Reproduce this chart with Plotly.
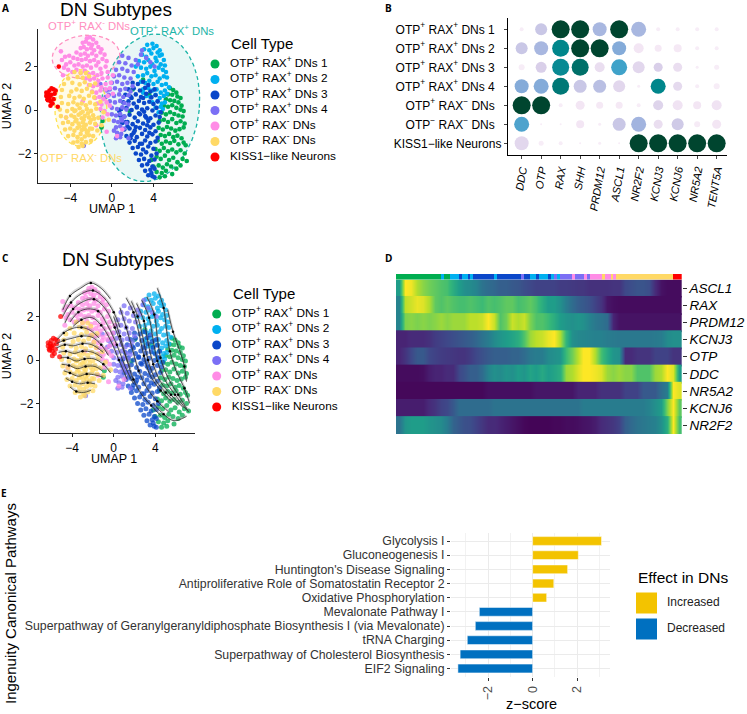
import numpy as np
import plotly.graph_objects as go

W, H = 747, 714
FONT = "Liberation Sans"

# ---- cell types ----
type_names = ["OTP<sup>+</sup> RAX<sup>+</sup> DNs 1", "OTP<sup>+</sup> RAX<sup>+</sup> DNs 2",
              "OTP<sup>+</sup> RAX<sup>+</sup> DNs 3", "OTP<sup>+</sup> RAX<sup>+</sup> DNs 4",
              "OTP<sup>+</sup> RAX<sup>-</sup> DNs", "OTP<sup>−</sup> RAX<sup>-</sup> DNs",
              "KISS1−like Neurons"]
type_colors = ["#00AD50", "#00B0F0", "#0A47C9", "#7B6FF5", "#FF8CE6", "#FFD966", "#FF0000"]

# ---- UMAP points ----
green_x = [5.6,5.9,6.2,5.4,5.8,6.3,6.6,5.2,5.6,6.0,6.4,6.7,5.0,5.4,5.8,6.2,6.6,6.9,4.8,5.2,5.6,6.0,6.4,6.8,4.6,5.0,5.4,5.8,6.2,6.6,7.0,4.5,4.9,5.3,5.7,6.1,6.5,6.9,4.7,5.1,5.5,5.9,6.3,6.7,4.4,4.8,5.2,5.6,6.0,6.4,6.9,7.1,4.2,4.6,5.0,5.4,5.8,6.2,6.6,7.0,3.8,4.3,4.7,5.1,5.5,5.9,6.3,6.8,7.2,4.0,4.5,4.9,5.3,5.7,6.2,6.6,4.3,4.8,5.2,5.8,4.6,5.1,3.0,2.0,1.7,3.6,-0.9,-1.0]
green_y = [1.0,.92,.8,.72,.7,.62,.55,.5,.45,.42,.35,.2,.2,.15,.22,.1,.02,-.05,-.12,-.2,-.1,-.18,-.25,-.3,-.5,-.45,-.55,-.42,-.6,-.52,-.62,-.82,-.9,-.78,-.85,-.95,-.88,-.8,-1.15,-1.2,-1.1,-1.25,-1.18,-1.3,-1.4,-1.55,-1.45,-1.52,-1.42,-1.58,-1.5,-1.62,-1.8,-1.88,-1.75,-1.9,-1.82,-1.95,-1.85,-2.0,-2.3,-2.15,-2.25,-2.1,-2.3,-2.2,-2.4,-2.25,-2.35,-2.6,-2.55,-2.65,-2.5,-2.6,-2.7,-2.55,-2.85,-2.9,-2.8,-2.95,-3.1,-3.05,1.4,.95,-.05,.7,-.5,-.8]
ltblue_x = [3.4,3.9,4.3,4.6,3.1,3.6,4.0,4.4,4.8,2.9,3.3,3.8,4.2,4.6,5.0,2.6,3.1,3.5,3.9,4.3,4.7,5.1,2.3,2.8,3.3,3.7,4.1,4.5,4.9,5.2,3.0,3.4,3.8,4.2,4.6,5.0,5.3,2.8,3.2,3.6,4.0,4.4,4.8,5.2,3.0,3.5,3.9,4.3,4.7,5.1,5.5,3.3,3.7,4.2,4.6,5.0,3.9,4.4,4.8,5.3,4.2,4.7,5.1,4.5,4.9,2.5,3.0]
ltblue_y = [3.0,3.05,2.95,2.75,2.8,2.75,2.85,2.65,2.55,2.55,2.45,2.6,2.4,2.5,2.3,2.25,2.2,2.3,2.1,2.25,2.1,2.05,2.0,1.95,1.9,2.0,1.8,1.95,1.85,1.75,1.6,1.7,1.55,1.6,1.45,1.55,1.5,1.3,1.25,1.35,1.2,1.3,1.15,1.2,.95,1.0,.9,.95,.8,.9,1.05,.65,.6,.7,.55,.65,.35,.4,.3,.75,.1,.15,.35,-.1,.05,1.55,.8]
blue_x = [2.0,2.5,3.0,3.5,1.6,2.1,2.7,3.2,3.7,4.1,1.3,1.8,2.3,2.8,3.3,3.8,4.2,1.1,1.6,2.1,2.6,3.1,3.6,4.0,4.4,.9,1.4,1.9,2.4,2.9,3.4,3.9,4.3,.8,1.2,1.7,2.2,2.7,3.2,3.7,4.2,4.6,1.0,1.5,2.0,2.5,3.0,3.5,4.0,4.5,1.2,1.7,2.2,2.7,3.2,3.7,4.2,1.4,1.9,2.4,2.9,3.4,3.9,4.4,1.7,2.2,2.7,3.2,3.7,4.2,2.0,2.5,3.0,3.5,4.0,2.3,2.8,3.3,3.8,4.3,2.6,3.1,3.6,4.1,2.9,3.4,3.9,3.2,3.7,4.1,3.5,3.9,3.8,4.1,2.4,3.0,1.5,2.9,3.4,2.1,1.8,2.6,3.1,3.6,2.3,3.3,1.3,1.9,.7,4.7]
blue_y = [1.25,1.2,1.3,1.15,.95,1.0,.9,1.02,.85,.95,.7,.62,.72,.6,.75,.58,.68,.35,.4,.3,.42,.32,.38,.28,.4,.05,.1,.0,.12,.02,.08,-.02,.1,-.25,-.3,-.22,-.35,-.2,-.28,-.38,-.25,-.32,-.6,-.55,-.65,-.52,-.62,-.5,-.68,-.58,-.9,-.85,-.95,-.82,-.92,-.8,-.98,-1.2,-1.15,-1.25,-1.1,-1.22,-1.12,-1.28,-1.5,-1.42,-1.55,-1.4,-1.52,-1.45,-1.75,-1.7,-1.82,-1.68,-1.78,-2.0,-2.05,-1.95,-2.1,-2.0,-2.3,-2.25,-2.35,-2.28,-2.55,-2.5,-2.6,-2.8,-2.75,-2.7,-3.0,-3.05,-2.9,-3.1,.15,.55,-.75,-1.55,-.7,-1.05,-1.3,-.15,-.08,-1.05,-.78,-.35,-.55,.55,-.05,-.1]
purple_x = [1.0,1.6,2.3,2.8,3.3,.7,1.3,1.9,2.5,.4,1.0,1.5,2.1,.2,.7,1.2,1.8,.0,.5,1.0,1.5,2.0,-.2,.3,.8,1.3,1.8,-.3,.2,.7,1.1,1.6,-.2,.3,.8,1.2,1.6,.0,.5,1.0,1.4,.0,.4,.8,1.2,.2,.6,1.0,1.4,.4,.8,1.2,.5,.9,.4,.8,-.5,-.6,-1.1,3.7,4.1,2.9,1.6,.2,.9,-2.7]
purple_y = [2.5,2.4,2.3,2.55,2.4,2.2,2.15,2.05,2.1,1.85,1.9,1.8,1.75,1.55,1.6,1.5,1.45,1.25,1.3,1.2,1.25,1.1,.95,1.0,.92,.98,.85,.7,.65,.72,.6,.68,.4,.35,.42,.32,.25,.1,.05,.12,.02,-.2,-.25,-.18,-.3,-.5,-.55,-.48,-.6,-.8,-.75,-.85,-1.05,-1.1,-1.3,-1.25,.9,.6,1.2,2.2,2.0,2.75,-1.3,-.95,-.4,-1.65]
pink_x = [-2.4,-2.1,-1.8,-2.8,-2.5,-2.2,-1.9,-1.5,-3.0,-2.7,-2.4,-2.0,-1.7,-1.3,-1.0,-3.4,-3.0,-2.6,-2.3,-1.9,-1.5,-1.1,-.7,-4.9,-4.5,-4.1,-3.7,-3.3,-2.9,-2.5,-2.1,-1.7,-1.3,-.9,-.5,-4.8,-4.4,-4.0,-3.6,-3.2,-2.8,-2.4,-2.0,-1.5,-1.1,-.6,-4.6,-4.2,-3.8,-3.4,-3.0,-2.6,-2.2,-1.8,-1.4,-1.0,-.4,-4.7,-2.5,-2.1,-1.7,-1.3,-.9,-.4,.1,-2.2,-1.8,-1.4,-1.0,-.6,-.1,-1.9,-1.5,-1.1,-.6,-.2,-1.6,-1.2,-.8,-.4,.1,-1.4,-1.0,-.5,-1.1,-.7,-.2,-.9,-.4,-1.5,-2.8,-4.4,-.5,.5,1.0]
pink_y = [3.3,3.35,3.25,3.1,3.15,3.05,3.0,3.1,2.85,2.9,2.8,2.85,2.75,2.9,2.8,2.65,2.55,2.6,2.5,2.6,2.5,2.65,2.55,2.7,2.45,2.5,2.4,2.35,2.3,2.35,2.25,2.3,2.2,2.35,2.25,2.3,2.1,2.2,2.05,2.1,2.0,2.05,1.95,2.05,1.9,2.0,1.95,1.85,1.75,1.85,1.7,1.8,1.65,1.7,1.6,1.7,1.75,1.6,1.45,1.4,1.45,1.35,1.45,1.5,1.6,1.15,1.1,1.15,1.05,1.2,1.25,.85,.8,.9,.95,1.0,.55,.6,.5,.65,.75,.3,.25,.35,.05,-.05,.2,-.35,-.2,-.7,.4,-.35,-1.0,-1.2,-.9]
orange_x = [-3.6,-3.0,-2.5,-4.2,-3.3,-2.8,-2.2,-4.6,-3.8,-3.1,-2.6,-2.1,-1.6,-4.8,-3.9,-3.4,-2.9,-2.4,-1.9,-4.9,-4.1,-3.6,-3.1,-2.7,-2.2,-1.7,-4.8,-4.2,-3.7,-3.3,-2.9,-2.5,-2.1,-1.6,-1.1,-5.0,-4.3,-3.8,-3.5,-3.1,-2.8,-2.4,-2.0,-1.5,-.8,-4.9,-4.4,-3.9,-3.6,-3.2,-2.9,-2.6,-2.2,-1.8,-1.3,-4.7,-4.2,-3.8,-3.5,-3.2,-2.8,-2.5,-2.1,-1.6,-1.0,-4.5,-4.0,-3.6,-3.3,-2.9,-2.6,-2.3,-1.9,-1.4,-4.2,-3.7,-3.3,-3.0,-2.6,-2.2,-1.8,-3.7,-3.3,-2.9,-2.5,-2.0,-3.2,-2.8,-3.4,-3.0,-2.7,-2.3,-3.1,-2.7,-2.4,-2.9,-2.0,-3.6,-2.1,-1.7,-.3]
orange_y = [1.75,1.72,1.7,1.45,1.52,1.48,1.55,1.2,1.25,1.18,1.28,1.15,1.22,.92,.85,.95,.88,.98,.82,.6,.65,.55,.62,.52,.66,.58,.32,.28,.36,.25,.3,.22,.34,.26,.38,.02,-.05,.05,-.02,.08,-.08,.04,-.04,.06,-.1,-.28,-.35,-.25,-.32,-.22,-.38,-.28,-.34,-.24,-.36,-.6,-.55,-.65,-.52,-.62,-.56,-.68,-.58,-.64,-.7,-.9,-.85,-.95,-.82,-.92,-.88,-.98,-.86,-.94,-1.2,-1.15,-1.25,-1.1,-1.22,-1.16,-1.2,-1.5,-1.45,-1.55,-1.48,-1.42,-1.7,-1.65,-.45,-.15,-.45,-.15,-.75,-.75,-1.05,-1.35,-.45,-.05,-.85,-.4,-.45]
red_x = [-6.3,-6.2,-6.1,-6.0,-5.9,-6.3,-6.0,-5.8,-5.6,-5.5,-5.7,-5.9,-6.1,-5.4,-5.6,-5.8,-6.15,-5.95,-5.2,-5.1]
red_y = [.65,.5,.75,.55,.4,.8,.9,.7,.95,.75,.3,.2,.6,.9,.5,1.0,.45,.65,.15,2.0]

# ---- velocity streamlines (panel C) ----
stream_x = [[-4.9,-4.2,-3.2,-2.2,-1.2,-.3],[-4.9,-4.1,-3.1,-2.0,-.9,.0,.6],[-4.7,-3.9,-2.9,-1.9,-.8,.1,.9,1.6],
            [-4.2,-3.4,-2.5,-1.5,-.6,.3,1.1,1.9],[-3.9,-3.1,-2.1,-1.2,-.3,.5,1.3],
            [-5.4,-4.8,-4.0,-3.1,-2.2,-1.4],[-5.5,-4.8,-4.0,-3.1,-2.1,-1.2,-.5],[-5.5,-4.7,-3.9,-3.0,-2.1,-1.0],
            [-5.3,-4.6,-3.8,-3.0,-2.0,-1.1],[-5.1,-4.4,-3.6,-2.8,-1.9,-1.0,-.3],[-5.0,-4.3,-3.5,-2.7,-1.8,-1.1],
            [-4.8,-4.2,-3.4,-2.6,-1.7,-1.0],[-4.6,-4.0,-3.3,-2.5,-1.8],[-4.2,-3.6,-2.9,-2.2],
            [1.2,1.9,2.4,2.9,3.5,4.5,5.5],[2.2,2.9,3.3,3.8,4.5,5.5,6.7],[3.2,3.9,4.2,4.5,5.2,6.2,7.2],
            [4.2,4.8,5.1,5.4,6.0,6.8,7.3],[.6,1.2,1.8,2.4,3.2,4.2,5.3],[5.2,5.7,6.3,6.8,7.0],[3.8,4.8,5.8,7.0],
            [1.7,2.3,2.8,3.3,4.0,5.0,6.2],[2.7,3.4,3.8,4.2,4.9,5.9,7.0],[.0,.6,1.2,1.9,2.7,3.6,4.6]]
stream_y = [[2.3,2.95,3.3,3.55,3.3,2.8],[2.0,2.65,3.05,3.2,2.85,2.2,1.5],[1.7,2.35,2.7,2.8,2.35,1.5,.5,-.4],
            [1.75,2.2,2.35,2.25,1.6,.7,-.3,-1.1],[1.55,1.85,1.95,1.6,.9,.0,-.9],
            [.95,1.25,1.45,1.5,1.35,1.0],[.75,.9,1.0,1.1,1.05,.7,.2],[.55,.7,.65,.75,.7,.35],
            [.35,.4,.3,.4,.35,.1],[.1,.1,-.05,.05,.05,-.2,-.6],[-.2,-.25,-.4,-.3,-.3,-.5],
            [-.5,-.6,-.75,-.65,-.7,-.8],[-.85,-1.0,-1.1,-1.05,-1.1],[-1.25,-1.45,-1.5,-1.4],
            [2.85,2.2,1.3,.2,-.7,-1.4,-1.9],[2.6,1.8,.8,-.2,-1.0,-1.6,-2.2],[2.9,2.1,1.0,.1,-.8,-1.6,-2.4],
            [3.3,2.4,1.3,.4,-.5,-1.3,-2.0],[2.4,1.5,.5,-.5,-1.3,-1.9,-2.4],[2.3,1.3,.5,-.3,-1.0],[-2.0,-2.5,-2.8,-2.6],
            [2.7,2.0,1.05,.0,-.9,-1.5,-2.1],[2.75,1.95,.9,-.05,-.9,-1.6,-2.3],[2.0,1.1,.1,-.9,-1.6,-2.1,-2.6]]

# ---- dot plot (panel B) ----
dot_genes = ["DDC","OTP","RAX","SHH","PRDM12","ASCL1","NR2F2","KCNJ3","KCNJ6","NR5A2","TENT5A"]
dot_rows = ["OTP<sup>+</sup> RAX<sup>+</sup> DNs 1&nbsp;&nbsp;", "OTP<sup>+</sup> RAX<sup>+</sup> DNs 2&nbsp;&nbsp;",
            "OTP<sup>+</sup> RAX<sup>+</sup> DNs 3&nbsp;&nbsp;", "OTP<sup>+</sup> RAX<sup>+</sup> DNs 4&nbsp;&nbsp;",
            "OTP<sup>+</sup> RAX<sup>−</sup> DNs&nbsp;&nbsp;", "OTP<sup>−</sup> RAX<sup>−</sup> DNs&nbsp;&nbsp;",
            "KISS1−like Neurons"]
dot_pct = [[4,12,18,18,14,18,15,4,4,4,4],
           [12,14,17,18,18,14,10,7,8,4,4],
           [6,11,17,17,10,16,12,9,9,3,5],
           [14,15,17,13,13,12,3,15,9,4,6],
           [18,18,4,9,7,7,4,10,10,8,10],
           [15,2,2,8,3,13,15,9,12,6,9],
           [14,5,4,2,3,2,18,18,18,18,18]]
dot_expr = [[.05,.3,1,1,.4,1,.4,.05,.05,.05,.05],
            [.3,.4,.8,1,1,.5,.1,.08,.08,.05,.05],
            [.05,.25,.78,.88,.15,.65,.2,.25,.15,.05,.05],
            [.5,.5,.85,.3,.35,.2,.05,.8,.18,.05,.05],
            [1,1,.05,.1,.08,.08,.05,.22,.12,.1,.12],
            [.62,.05,.05,.1,.05,.3,.42,.15,.28,.06,.1],
            [.2,.05,.05,.05,.05,.05,1,1,1,1,1]]
dot_scale = [[0,"#FBF3FA"],[.1,"#F3E6F4"],[.25,"#D9CFE9"],[.42,"#A2B4DF"],[.55,"#72A6D6"],[.65,"#3FA2C9"],
             [.8,"#00868B"],[.9,"#006A60"],[1,"#00452F"]]

# ---- pseudotime heatmap (panel D) ----
heat_genes = ["ASCL1","RAX","PRDM12","KCNJ3","OTP","DDC","NR5A2","KCNJ6","NR2F2"]
ascl1 = [.55,1,.98,.88,.82,.78,.75,.72,.7,.62,.55,.5,.48,.45,.38,.35,.33,.3,.3,.28,.27,.24,.22,.2,.2,.2,.2,.18,.18,.17,.16,.16,.14,.14,.14,.14,.15,.15,.22,.24,.26,.26,.24,.12,.05,.03,.03,.03]
rax = [.45,.9,.93,.97,.95,.88,.75,.72,.75,.72,.7,.7,.72,.7,.68,.72,.7,.72,.75,.75,.7,.72,.75,.7,.62,.55,.55,.5,.42,.35,.3,.28,.25,.2,.15,.06,.04,.03,.03,.03,.03,.03,.03,.03,.03,.03,.03,.03]
prdm12 = [.45,.8,.82,.8,.82,.8,.82,.85,.82,.85,.85,.85,.9,.9,.92,1,.92,.72,.78,.92,.88,.92,.8,.72,.72,.68,.62,.55,.52,.5,.52,.5,.45,.4,.38,.35,.1,.05,.05,.05,.05,.05,.05,.05,.05,.05,.05,.05]
kcnj3 = [.1,.1,.12,.12,.12,.14,.18,.2,.22,.24,.26,.28,.3,.33,.38,.42,.48,.52,.55,.58,.62,.72,.85,.9,.92,.97,1,.88,.65,.5,.47,.46,.45,.44,.44,.42,.41,.4,.4,.4,.4,.4,.4,.41,.42,.48,.5,.5]
otp = [.1,.15,.22,.28,.28,.22,.2,.18,.17,.16,.15,.15,.18,.22,.25,.28,.3,.3,.3,.32,.32,.35,.4,.42,.42,.48,.5,.52,.68,.78,.9,1,1,.88,.7,.6,.52,.5,.12,.12,.15,.15,.15,.2,.2,.2,.15,.15]
ddc = [.03,.03,.03,.03,.04,.08,.1,.1,.12,.12,.22,.25,.3,.3,.35,.45,.5,.48,.52,.5,.55,.52,.58,.55,.6,.55,.58,.62,.85,.88,.95,1,1,.98,.95,.85,.82,.85,.82,.82,.72,.72,.72,.85,.88,1,.95,.55]
nr5a2 = [.02,.02,.02,.02,.02,.02,.02,.02,.02,.02,.02,.02,.02,.02,.02,.04,.04,.04,.04,.04,.04,.04,.04,.06,.06,.06,.06,.06,.06,.06,.1,.1,.1,.1,.14,.14,.14,.14,.2,.2,.2,.28,.28,.28,.36,.42,1,.95]
kcnj6 = [.08,.08,.08,.08,.08,.12,.15,.2,.22,.28,.35,.35,.35,.35,.35,.35,.38,.38,.38,.38,.38,.38,.38,.38,.38,.38,.38,.38,.38,.38,.38,.42,.42,.42,.42,.42,.42,.42,.42,.42,.42,.42,.45,.5,.55,.8,1,.75]
nr2f2 = [.38,.52,.55,.55,.55,.52,.5,.48,.42,.32,.28,.25,.24,.2,.16,.12,.12,.1,.08,.06,.04,.02,.01,.01,.01,.01,.02,.02,.03,.03,.04,.05,.06,.08,.12,.14,.16,.2,.3,.34,.38,.4,.42,.44,.5,.62,1,.7]
strip_types = [0,0,0,0,0,0,0,0,0,0,0,0,0,0,0,1,0,0,1,1,1,2,1,1,2,1,2,2,2,2,2,2,2,1,2,2,2,2,2,2,2,2,3,2,2,1,1,2,1,1,1,2,1,3,1,3,3,3,3,4,3,3,3,4,3,4,4,4,4,5,4,4,5,4,5,5,5,5,5,5,5,5,5,5,5,5,5,5,5,5,5,5,5,6,6,6]

# ---- pathways (panel E) ----
path_names = ["Glycolysis I","Gluconeogenesis I","Huntington's Disease Signaling",
              "Antiproliferative Role of Somatostatin Receptor 2","Oxidative Phosphorylation",
              "Mevalonate Pathway I","Superpathway of Geranylgeranyldiphosphate Biosynthesis I (via Mevalonate)",
              "tRNA Charging","Superpathway of Cholesterol Biosynthesis","EIF2 Signaling"]
path_z = [3.09,2.05,1.57,.95,.63,-2.39,-2.57,-2.93,-3.25,-3.35]
effect_names = ["Increased","Decreased"]
effect_colors = ["#F3C300","#0070C0"]

clusters = [(green_x,green_y),(ltblue_x,ltblue_y),(blue_x,blue_y),(purple_x,purple_y),
            (pink_x,pink_y),(orange_x,orange_y),(red_x,red_y)]

def dx(l, r): return [l / W, r / W]
def dy(t, b): return [1 - b / H, 1 - t / H]

fig = go.Figure()
layout = dict(width=W, height=H, autosize=False, margin=dict(l=0, r=0, t=0, b=0),
              paper_bgcolor="white", plot_bgcolor="rgba(0,0,0,0)", showlegend=False,
              font=dict(family=FONT, color="black", size=12))
anns = []

def ann(text, x, y, size=12, color="black", angle=0, xanchor="center", bold=False, family=FONT):
    anns.append(dict(text=f"<b>{text}</b>" if bold else text, x=x / W, y=1 - y / H, xref="paper", yref="paper",
                     showarrow=False, font=dict(size=size, color=color, family=family), textangle=angle,
                     xanchor=xanchor, yanchor="middle"))

def umap_axes(n, l, r, t, b, xr, yr):
    layout[f"xaxis{n}"] = dict(domain=dx(l, r), range=xr, anchor=f"y{n}", tickvals=[-4, 0, 4], showgrid=False, zeroline=False,
                               showline=True, linecolor="#222", linewidth=1.4, ticks="outside", ticklen=3, tickcolor="#222",
                               tickfont=dict(size=12))
    layout[f"yaxis{n}"] = dict(domain=dy(t, b), range=yr, anchor=f"x{n}", tickvals=[-2, 0, 2], showgrid=False, zeroline=False,
                               showline=True, linecolor="#222", linewidth=1.4, ticks="outside", ticklen=3, tickcolor="#222",
                               tickfont=dict(size=12), title=dict(text="UMAP 2", font=dict(size=12.5), standoff=5))

def legend_axes(n, l, r, t, b, count):
    layout[f"xaxis{n}"] = dict(domain=dx(l, r), range=[0, 1], anchor=f"y{n}", visible=False, fixedrange=True)
    layout[f"yaxis{n}"] = dict(domain=dy(t, b), range=[count - .5, -.5], anchor=f"x{n}", visible=False, fixedrange=True)

# Panel A ------------------------------------------------------------------
umap_axes(11, 38, 193, 29, 183, [-7.1, 7.8], [-3.36, 3.73])
# invisible underlay with the same scale, wider than the axes so the ellipse is not clipped
layout["xaxis6"] = dict(domain=dx(30, 205), range=[(30 - 112) / 10.4, (205 - 112) / 10.4], anchor="y6", visible=False)
layout["yaxis6"] = dict(domain=dy(25, 190), range=[(110 - 190) / 21.7, (110 - 25) / 21.7], anchor="x6", visible=False)
ellipses = [(3.65, 0.1, 4.75, 3.4, 0.55, "#1DB5A8", "rgba(29,181,168,0.10)"),
            (-2.5, 2.45, 3.25, 1.0, 0.25, "#FF8FC0", "rgba(255,143,192,0.10)"),
            (-3.0, 0.09, 2.5, 1.77, 0.0, "#FFE34D", "rgba(255,227,77,0.12)")]
t = np.linspace(0, 2 * np.pi, 121)
for cx, cy, ax_, ay_, shear, lc, fc in ellipses:
    fig.add_trace(go.Scatter(x=cx + ax_ * np.cos(t) + shear * np.sin(t), y=cy + ay_ * np.sin(t), mode="lines",
                             line=dict(color=lc, width=1.3, dash="4px,3px"), fill="toself", fillcolor=fc,
                             xaxis="x6", yaxis="y6", hoverinfo="skip"))
for (cxs, cys), col, name in zip(clusters, type_colors, type_names):
    fig.add_trace(go.Scatter(x=cxs, y=cys, mode="markers", marker=dict(color=col, size=4.6), xaxis="x11", yaxis="y11", name=name))
ann("OTP<sup>+</sup> RAX<sup>-</sup> DNs", 89, 25, 11.3, "#FF8FC0")
ann("OTP<sup>+</sup> RAX<sup>+</sup> DNs", 172, 30, 11.3, "#1DB5A8")
ann("OTP<sup>−</sup> RAX<sup>-</sup> DNs", 81, 157, 11.3, "#FFD966")
ann("DN Subtypes", 116, 10, 19)
ann("UMAP 1", 112, 209, 12.5)
ann("A", 6, 8, 10, bold=True, family="Open Sans")
ann("Cell Type", 229, 43, 15, xanchor="left")

# Panel C ------------------------------------------------------------------
umap_axes(2, 40, 195, 279, 433, [(40 - 113.7) / 10.4, (195 - 113.7) / 10.4], [(360 - 433) / 21.7, (360 - 279) / 21.7])
for (cxs, cys), col, name in zip(clusters, type_colors, type_names):
    fig.add_trace(go.Scatter(x=cxs, y=cys, mode="markers", marker=dict(color=col, size=5, opacity=.75),
                             xaxis="x2", yaxis="y2", name=name))
for sx, sy in zip(stream_x, stream_y):
    fig.add_trace(go.Scatter(x=sx, y=[v + .05 for v in sy], mode="lines", line=dict(color="rgba(120,120,120,.3)", width=2.2, shape="spline"),
                             xaxis="x2", yaxis="y2", hoverinfo="skip"))
    fig.add_trace(go.Scatter(x=sx, y=sy, mode="lines", line=dict(color="#1a1a1a", width=.7, shape="spline"),
                             xaxis="x2", yaxis="y2", hoverinfo="skip"))
fig.add_trace(go.Scatter(x=[v for s in stream_x for v in s[1:-1:2]], y=[v for s in stream_y for v in s[1:-1:2]], mode="markers",
                         marker=dict(color="black", size=2.5), xaxis="x2", yaxis="y2", hoverinfo="skip"))
ann("DN Subtypes", 118, 259, 19)
ann("UMAP 1", 114, 459, 12.5)
ann("C", 6, 258, 10, bold=True, family="Open Sans")
ann("Cell Type", 231, 293, 15, xanchor="left")

# Legends for A and C --------------------------------------------------------
for n, l, t_, b_ in [(7, 215, 56.25, 164.75), (8, 216.7, 306.25, 414.75)]:
    legend_axes(n, l, l + 15, t_, b_, 7)
    fig.add_trace(go.Scatter(x=[0] * 7, y=list(range(7)), mode="markers", marker=dict(color=type_colors, size=9),
                             xaxis=f"x{n}", yaxis=f"y{n}", hoverinfo="skip", cliponaxis=False))
    fig.add_trace(go.Scatter(x=[1] * 7, y=list(range(7)), mode="text", text=type_names, textposition="middle right",
                             textfont=dict(size=11.8, color="black"), xaxis=f"x{n}", yaxis=f"y{n}", hoverinfo="skip", cliponaxis=False))

# Panel B ------------------------------------------------------------------
layout["xaxis3"] = dict(domain=dx(508, 727.4), range=[-.7, 10.55], anchor="y3", tickmode="array", tickvals=list(range(11)),
                        ticktext=[f"<i>{g}</i>" for g in dot_genes], tickangle=-80, showgrid=False, zeroline=False, showline=True,
                        linecolor="black", linewidth=1.4, ticks="outside", ticklen=3, tickfont=dict(size=11))
layout["yaxis3"] = dict(domain=dy(17.9, 154.7), range=[6.6, -.6], anchor="x3", tickmode="array", tickvals=list(range(7)),
                        ticktext=dot_rows, showgrid=False, zeroline=False, showline=True,
                        linecolor="black", linewidth=1.4, ticks="outside", ticklen=3, tickfont=dict(size=12))
bx = [j for r in dot_pct for j in range(len(r))]
by = [i for i, r in enumerate(dot_pct) for _ in r]
fig.add_trace(go.Scatter(x=bx, y=by, mode="markers", xaxis="x3", yaxis="y3", cliponaxis=False,
                         marker=dict(size=[v for r in dot_pct for v in r], color=[v for r in dot_expr for v in r], opacity=1,
                                     colorscale=dot_scale, cmin=0, cmax=1, showscale=False, line=dict(width=0))))
ann("B", 388, 8, 10, bold=True, family="Open Sans")

# Panel D ------------------------------------------------------------------
heat_z = [ascl1, rax, prdm12, kcnj3, otp, ddc, nr5a2, kcnj6, nr2f2]
layout["xaxis4"] = dict(domain=dx(396, 681.7), range=[-.5, 47.5], anchor="y4", visible=False)
layout["yaxis4"] = dict(domain=dy(279.5, 434), range=[8.5, -.5], anchor="x4", side="right", tickmode="array", tickvals=list(range(9)),
                        ticktext=[f"<i>{g}</i>" for g in heat_genes], ticks="outside", ticklen=4, tickcolor="#333",
                        showgrid=False, zeroline=False, showline=False, tickfont=dict(size=13.5))
for i, row in enumerate(heat_z):
    fig.add_trace(go.Heatmap(z=[row, row], y=[i - .27, i + .27], x=list(range(48)), colorscale="Viridis", zmin=0, zmax=1,
                             zsmooth="best", showscale=False, xaxis="x4", yaxis="y4"))
layout["xaxis9"] = dict(domain=dx(396, 681.7), range=[-.5, 47.5], anchor="y9", visible=False)
layout["yaxis9"] = dict(domain=dy(274, 279.5), range=[-.5, .5], anchor="x9", visible=False)
strip_scale = []
for i, c in enumerate(type_colors):
    strip_scale += [[i / 7, c], [(i + 1) / 7, c]]
fig.add_trace(go.Heatmap(z=[strip_types], x0=-.25, dx=.5, colorscale=strip_scale, zmin=-.5, zmax=6.5, showscale=False, xaxis="x9", yaxis="y9"))
ann("D", 388, 258, 10, bold=True, family="Open Sans")

# Panel E ------------------------------------------------------------------
layout["xaxis5"] = dict(domain=dx(451, 610), range=[-3.66, 3.47], anchor="y5", tickvals=[-2, 0, 2], tickangle=-90,
                        showgrid=True, gridcolor="#EBEBEB", gridwidth=1.1, zeroline=False, showline=False,
                        minor=dict(dtick=1, showgrid=True, gridcolor="#F2F2F2", gridwidth=.6),
                        ticks="outside", ticklen=3, tickcolor="#333", tickfont=dict(size=12.5, color="#4d4d4d"))
layout["yaxis5"] = dict(domain=dy(532.5, 677), range=[9.6, -.6], anchor="x5", tickmode="array", tickvals=list(range(10)),
                        ticktext=path_names, showgrid=True, gridcolor="#EBEBEB", gridwidth=1.1, zeroline=False, showline=False,
                        ticks="outside", ticklen=3, tickcolor="#333", tickfont=dict(size=12.3, color="#333"))
fig.add_trace(go.Bar(x=path_z, y=list(range(10)), orientation="h", width=.62, xaxis="x5", yaxis="y5",
                     marker=dict(color=[effect_colors[0] if v > 0 else effect_colors[1] for v in path_z],
                                 line=dict(color="rgba(255,255,255,.5)", width=1))))
ann("z−score", 531, 704, 14.5)
ann("Ingenuity Canonical Pathways", 10, 604, 15, angle=-90)
ann("E", 4, 493, 10, bold=True, family="Open Sans")
ann("Effect in DNs", 636, 577, 15.5, xanchor="left")
legend_axes(10, 646.5, 667, 590, 642, 2)
fig.add_trace(go.Scatter(x=[0, 0], y=[0, 1], mode="markers", marker=dict(color=effect_colors, size=21, symbol="square"),
                         xaxis="x10", yaxis="y10", hoverinfo="skip", cliponaxis=False))
fig.add_trace(go.Scatter(x=[1, 1], y=[0, 1], mode="text", text=effect_names, textposition="middle right",
                         textfont=dict(size=12, color="#222"), xaxis="x10", yaxis="y10", hoverinfo="skip", cliponaxis=False))

layout["annotations"] = anns
fig.update_layout(**layout)
fig.write_html("out.html", config={"displayModeBar": False}, post_script="document.body.style.margin='0';")
